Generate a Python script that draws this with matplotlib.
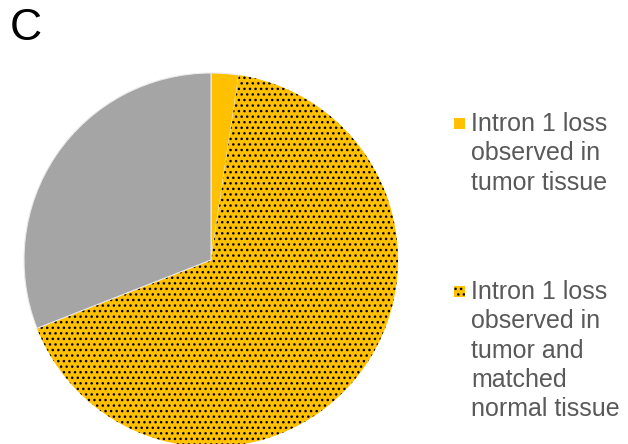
import matplotlib
matplotlib.use("Agg")
import matplotlib.pyplot as plt
from matplotlib.patches import Rectangle

plt.rcParams['font.family'] = ['Liberation Sans', 'DejaVu Sans']
plt.rcParams['hatch.color'] = 'black'
plt.rcParams['hatch.linewidth'] = 1.0

labels = ["Intron 1 loss\nobserved in\ntumor tissue",
          "Intron 1 loss\nobserved in\ntumor and\nmatched\nnormal tissue",
          "No intron 1 loss"]
values = [1, 28, 13]
colors = ["#FFC000", "#FFC000", "#A5A5A5"]
hatches = [None, "...", None]

W, H = 628, 444
fig = plt.figure(figsize=(W/100, H/100), dpi=100)
ax = fig.add_axes([24/W, -3/H, 374/W, 374/H])
wedges, _ = ax.pie(values, colors=colors, startangle=90, counterclock=False,
                   wedgeprops=dict(linewidth=0.8, edgecolor='#EAEAEA'))
for w, h in zip(wedges, hatches):
    if h:
        w.set_hatch(h)
        w.set_edgecolor('black')
        w.set_linewidth(0)
ax.set_aspect('equal')
ax.set_xlim(-1.0, 1.0)
ax.set_ylim(-1.0, 1.0)
ax.axis('off')

fig.text(10/W, 1 - 29/H, "C", fontsize=32, color='black', va='center', ha='left')

# legend (first two entries shown)
entry_tops = [112, 280]
for i in range(2):
    y = entry_tops[i]
    r = Rectangle((454/W, 1 - (y + 17)/H), 11/W, 11/H, transform=fig.transFigure,
                  facecolor=colors[i], edgecolor='black' if hatches[i] else 'none',
                  linewidth=0, hatch=hatches[i])
    fig.patches.append(r)
    fig.text(471/W, 1 - y/H, labels[i], fontsize=18, color='#595959',
             va='top', ha='left', linespacing=1.28)

fig.savefig("out.png", dpi=100)
